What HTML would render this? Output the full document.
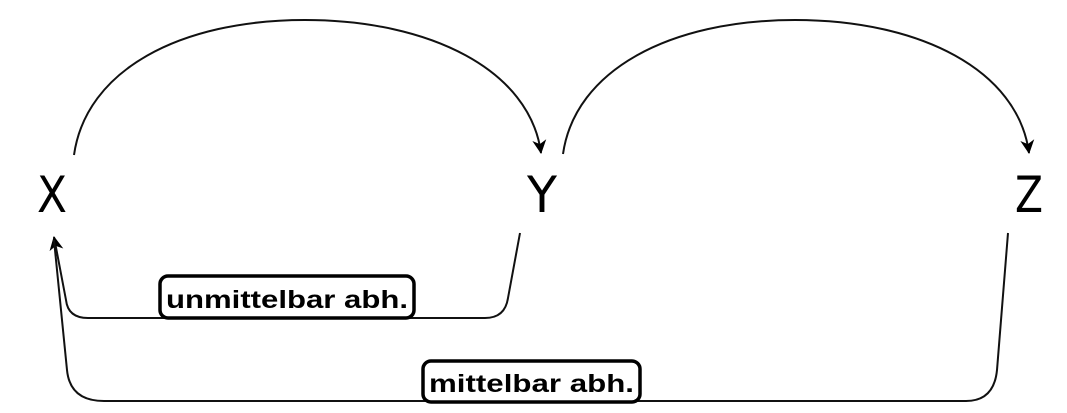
<!DOCTYPE html>
<html><head><meta charset="utf-8"><style>
html,body{margin:0;padding:0;background:#fff;}
svg{display:block;}
</style></head><body>
<svg width="1067" height="413" viewBox="0 0 1067 413" xmlns="http://www.w3.org/2000/svg">
<defs>
<marker id="a" markerWidth="18" markerHeight="18" refX="14" refY="8" orient="auto" markerUnits="userSpaceOnUse">
<path d="M1,1 L15,8 L1,15 L5,8 Z" fill="#000"/>
</marker>
</defs>
<g fill="none" stroke="#111" stroke-width="2">
<path d="M74,155 C86,70 180,20 305,20 C430,20 530,70 541,153" marker-end="url(#a)"/>
<path d="M563,154 C575,70 670,20 795,20 C920,20 1018,70 1029,153" marker-end="url(#a)"/>
<path d="M520,233 L508,298 Q505,318 485,318 L88,318 Q68,318 66,300 L54,237" marker-end="url(#a)"/>
<path d="M1008,233 L997,370 Q994,401 966,401 L104,401 Q70,401 67,370 L54,240"/>
</g>
<g font-family="'DejaVu Sans','Liberation Sans',sans-serif" font-size="50" fill="#000">
<text x="52" y="212" text-anchor="middle" textLength="30" lengthAdjust="spacingAndGlyphs">X</text>
<text x="542" y="212" text-anchor="middle" textLength="30" lengthAdjust="spacingAndGlyphs">Y</text>
<text x="1029" y="212" text-anchor="middle" textLength="28" lengthAdjust="spacingAndGlyphs">Z</text>
</g>
<g stroke="#000" stroke-width="3.5" fill="#fff">
<rect x="160" y="276" width="254" height="42" rx="8"/>
<rect x="423" y="361" width="217" height="41" rx="8"/>
</g>
<g font-family="'Liberation Sans',sans-serif" font-weight="bold" font-size="25" fill="#000">
<text x="166" y="308" textLength="242" lengthAdjust="spacingAndGlyphs">unmittelbar abh.</text>
<text x="429" y="392" textLength="205" lengthAdjust="spacingAndGlyphs">mittelbar abh.</text>
</g>
</svg>
</body></html>
